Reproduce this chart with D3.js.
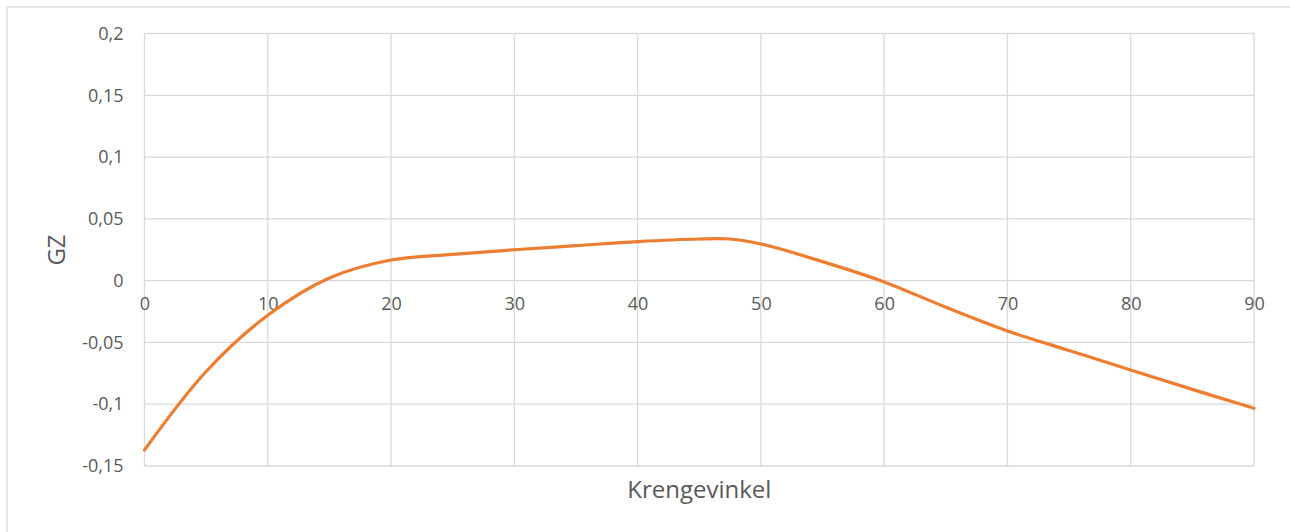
<!DOCTYPE html>
<html>
<head>
<meta charset="utf-8">
<script src="https://cdn.jsdelivr.net/npm/d3@7"></script>
<style>
html,body{margin:0;padding:0;background:#fff;}
svg{display:block;}
text{font-family:"Open Sans",sans-serif;fill:#595959;}
</style>
</head>
<body>
<svg id="chart" width="1290" height="532"></svg>
<script>
const angles = [0, 5, 10, 15, 20, 25, 30, 35, 40, 45, 47.5, 50, 55, 60, 65, 70, 75, 80, 85, 90];
const gz = [-0.137, -0.0735, -0.028, 0.0022, 0.0167, 0.0213, 0.025, 0.0283, 0.0316, 0.0337, 0.0337, 0.0297, 0.0154, -0.001, -0.0215, -0.0407, -0.0565, -0.0723, -0.088, -0.1033];
const xTicks = [0, 10, 20, 30, 40, 50, 60, 70, 80, 90];
const yTicks = [-0.15, -0.1, -0.05, 0, 0.05, 0.1, 0.15, 0.2];
const xTitle = "Krengevinkel";
const yTitle = "GZ";

const svg = d3.select("#chart");
const W = 1290, H = 532;
const m = {left: 144.5, right: 1254, top: 33.5, bottom: 466};

// outer border
svg.append("rect").attr("x", 7).attr("y", 7).attr("width", W).attr("height", H)
  .attr("fill", "none").attr("stroke", "#d9d9d9").attr("stroke-width", 1.3);

const x = d3.scaleLinear().domain([0, 90]).range([m.left, m.right]);
const y = d3.scaleLinear().domain([-0.15, 0.2]).range([m.bottom, m.top]);
const fmt = v => (Math.abs(v) < 1e-9 ? "0" : String(+v.toFixed(2)).replace(".", ","));

// gridlines
const grid = svg.append("g").attr("stroke", "#d9d9d9").attr("stroke-width", 1.3);
grid.selectAll(".gy").data(yTicks).join("line")
  .attr("x1", m.left).attr("x2", m.right)
  .attr("y1", d => y(d)).attr("y2", d => y(d));
grid.selectAll(".gx").data(xTicks).join("line")
  .attr("y1", m.top).attr("y2", m.bottom)
  .attr("x1", d => x(d)).attr("x2", d => x(d));

// y axis labels
const yAxis = d3.axisLeft(y).tickValues(yTicks).tickFormat(fmt).tickSize(0).tickPadding(21);
const ya = svg.append("g").attr("transform", `translate(${m.left},0)`).call(yAxis);
ya.select(".domain").remove();
ya.selectAll("text").attr("font-size", 18).attr("fill", "#595959").attr("font-family", "Open Sans, sans-serif");

// x axis labels at zero line
const xAxis = d3.axisBottom(x).tickValues(xTicks).tickFormat(d => d).tickSize(0).tickPadding(17);
const xa = svg.append("g").attr("transform", `translate(0,${y(0)})`).call(xAxis);
xa.select(".domain").remove();
xa.selectAll("text").attr("font-size", 18).attr("fill", "#595959").attr("font-family", "Open Sans, sans-serif");

// line
const line = d3.line().x((d, i) => x(angles[i])).y(d => y(d)).curve(d3.curveCatmullRom.alpha(0.5));
svg.append("path").datum(gz).attr("d", line)
  .attr("fill", "none").attr("stroke", "#ED7D31").attr("stroke-width", 3.2)
  .attr("stroke-linejoin", "round").attr("stroke-linecap", "round");

// titles
svg.append("text").attr("x", (m.left + m.right) / 2).attr("y", 498)
  .attr("text-anchor", "middle").attr("font-size", 24).text(xTitle);
svg.append("text").attr("transform", `translate(65,250) rotate(-90)`)
  .attr("text-anchor", "middle").attr("font-size", 24).text(yTitle);
</script>
</body>
</html>
